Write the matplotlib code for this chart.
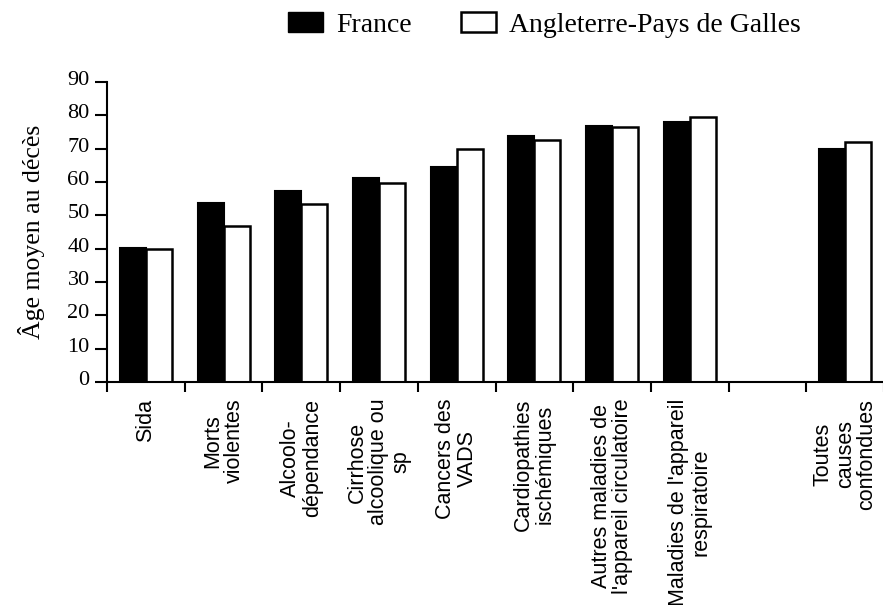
import matplotlib
matplotlib.use('Agg')
import matplotlib.pyplot as plt
import matplotlib.transforms as mtransforms
from matplotlib.patches import Patch
import numpy as np

# categories (one empty slot before "Toutes causes confondues")
categories = ["Sida", "Morts\nviolentes", "Alcoolo-\ndépendance",
              "Cirrhose\nalcoolique ou\nsp", "Cancers des\nVADS",
              "Cardiopathies\nischémiques",
              "Autres maladies de\nl'appareil circulatoire",
              "Maladies de l'appareil\nrespiratoire", "",
              "Toutes\ncauses\nconfondues"]
france = [40.2, 53.7, 57.4, 61.2, 64.6, 73.8, 76.8, 78.0, np.nan, 70.0]
angleterre = [40.0, 46.9, 53.4, 59.7, 70.0, 72.6, 76.5, 79.6, np.nan, 72.0]
yticks = list(range(0, 100, 10))

plt.rcParams['font.family'] = ['Liberation Serif', 'DejaVu Serif']

fig = plt.figure(figsize=(8.83, 6.05), dpi=100)
ax = fig.add_axes([107 / 883, 223 / 605, 777 / 883, 300 / 605])

x = np.arange(len(categories))
w = 0.335
ax.bar(x - w / 2, france, w, color='black', edgecolor='black', linewidth=1.5,
       label='France')
ax.bar(x + w / 2, angleterre, w, color='white', edgecolor='black', linewidth=1.8,
       label='Angleterre-Pays de Galles')

ax.set_xlim(-0.5, len(categories) - 0.5)
ax.set_ylim(0, 90)
ax.set_yticks(yticks)
ax.tick_params(axis='y', direction='out', length=8.5, width=1.5, labelsize=16, pad=4)
# numbers sit slightly above their tick marks
shift = mtransforms.ScaledTranslation(0, 4 / 100, fig.dpi_scale_trans)
for lab in ax.get_yticklabels():
    lab.set_transform(lab.get_transform() + shift)

ax.set_xticks(x)
ax.set_xticklabels(categories, rotation=90, fontsize=15.5, linespacing=1.05,
                   family=['Liberation Sans', 'DejaVu Sans'])
ax.tick_params(axis='x', which='major', length=0, pad=12)
ax.set_xticks(np.arange(-0.5, len(categories), 1.0), minor=True)
ax.tick_params(axis='x', which='minor', direction='out', length=7.5, width=1.5)

for s in ['top', 'right']:
    ax.spines[s].set_visible(False)
for s in ['left', 'bottom']:
    ax.spines[s].set_linewidth(1.5)

ax.set_ylabel('Âge moyen au décès', fontsize=18.5, labelpad=16)

handles = [Patch(facecolor='black', edgecolor='black'),
           Patch(facecolor='white', edgecolor='black', linewidth=1.8)]
fig.legend(handles, ['France', 'Angleterre-Pays de Galles'], ncol=2,
           loc='upper left', bbox_to_anchor=(288 / 883, 1 - 12 / 605),
           frameon=False, fontsize=20, handlelength=1.25, handleheight=0.75,
           handletextpad=0.5, columnspacing=1.75, borderpad=0, borderaxespad=0)

fig.savefig('out.png', dpi=100)
